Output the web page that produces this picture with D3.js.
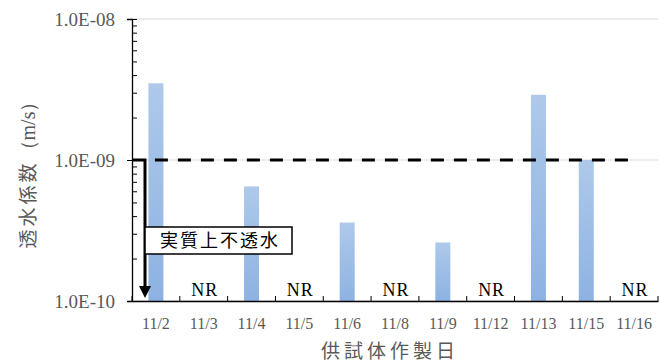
<!DOCTYPE html>
<html>
<head>
<meta charset="utf-8">
<script src="https://cdn.jsdelivr.net/npm/d3@7"></script>
<style>
body { margin: 0; background: #fff; }
svg { display: block; }
</style>
</head>
<body>
<div class="chart"></div>
<script>
//data
var dates = ["11/2", "11/3", "11/4", "11/5", "11/6", "11/8", "11/9", "11/12", "11/13", "11/15", "11/16"];
var kValues = [3.5e-9, null, 6.5e-10, null, 3.6e-10, null, 2.6e-10, null, 2.9e-9, 1.0e-9, null];
var yTicks = [1e-10, 1e-9, 1e-8];
var yTickLabels = ["1.0E-10", "1.0E-09", "1.0E-08"];
var threshold = 1e-9;
var nrLabel = "NR";
var noteText = "実質上不透水";
var yTitle = "透水係数";
var yUnit = "（m/s）";
var xTitle = "供試体作製日";

var width = 660;
var height = 363;
var margin = {top: 19, right: 2, bottom: 62, left: 132};
var grey = "#595959";
var serif = "'Liberation Serif', 'DejaVu Serif', serif";
var sans = "'Noto Sans CJK JP', 'Noto Sans', sans-serif";

var svg = d3.select(".chart").append("svg")
    .attr("width", width)
    .attr("height", height)
    .style("background-color", "white");

//bar gradient
var grad = svg.append("defs").append("linearGradient")
    .attr("id", "barGrad")
    .attr("x1", 0).attr("y1", 0).attr("x2", 0).attr("y2", 1);
grad.append("stop").attr("offset", "0%").attr("stop-color", "#aec9ea");
grad.append("stop").attr("offset", "100%").attr("stop-color", "#8db2e2");

var x = d3.scaleBand()
    .domain(dates)
    .range([margin.left, width - margin.right])
    .padding(0);

var y = d3.scaleLog()
    .domain([yTicks[0], yTicks[yTicks.length - 1]])
    .range([height - margin.bottom, margin.top]);

var barW = 15;

//grid lines
svg.append("g")
    .selectAll("line")
    .data(yTicks)
    .enter().append("line")
    .attr("x1", margin.left)
    .attr("x2", width - margin.right)
    .attr("y1", d => y(d))
    .attr("y2", d => y(d))
    .attr("stroke", "#d9d9d9")
    .attr("stroke-width", 1);

//bars
svg.append("g")
    .selectAll("rect")
    .data(dates.filter((d, i) => kValues[i] != null))
    .enter().append("rect")
    .attr("x", d => x(d) + x.bandwidth() / 2 - barW / 2)
    .attr("width", barW)
    .attr("y", d => y(kValues[dates.indexOf(d)]))
    .attr("height", d => y(yTicks[0]) - y(kValues[dates.indexOf(d)]))
    .attr("fill", "url(#barGrad)");

//NR labels
svg.append("g")
    .selectAll("text")
    .data(dates.filter((d, i) => kValues[i] == null))
    .enter().append("text")
    .attr("x", d => x(d) + x.bandwidth() / 2 + 1)
    .attr("y", y(yTicks[0]) - 5)
    .attr("text-anchor", "middle")
    .attr("font-family", serif)
    .attr("font-size", "18px")
    .attr("letter-spacing", "1px")
    .style("fill", "#000")
    .text(nrLabel);

//threshold dashed line
svg.append("line")
    .attr("x1", x(dates[0]) + x.bandwidth() / 2 - 1)
    .attr("x2", x(dates[dates.length - 1]) + x.bandwidth() / 2)
    .attr("y1", y(threshold))
    .attr("y2", y(threshold))
    .attr("stroke", "#000")
    .attr("stroke-width", 3)
    .attr("stroke-dasharray", "13,10");

//L-shaped arrow down to the bottom
var ax = margin.left + 13;
svg.append("path")
    .attr("d", "M" + margin.left + "," + y(threshold) + "H" + ax + "V" + (y(yTicks[0]) - 14))
    .attr("fill", "none")
    .attr("stroke", "#000")
    .attr("stroke-width", 3);
svg.append("path")
    .attr("d", "M" + (ax - 6) + "," + (y(yTicks[0]) - 15) + "L" + (ax + 6) + "," + (y(yTicks[0]) - 15) + "L" + ax + "," + (y(yTicks[0]) - 3) + "Z")
    .attr("fill", "#000");

//note box
var note = svg.append("g").attr("transform", "translate(" + ax + ",227)");
note.append("rect")
    .attr("width", 147)
    .attr("height", 27)
    .attr("fill", "#fff")
    .attr("stroke", "#000")
    .attr("stroke-width", 1.5);
note.append("text")
    .attr("x", 75)
    .attr("y", 20)
    .attr("text-anchor", "middle")
    .attr("font-family", sans)
    .attr("font-size", "18px")
    .attr("letter-spacing", "2px")
    .style("fill", "#000")
    .text(noteText);

//y axis: major ticks crossing, labels
var yAxis = svg.append("g")
    .attr("transform", "translate(" + margin.left + ",0)")
    .call(d3.axisLeft(y).tickValues(yTicks).tickSize(5).tickFormat((d, i) => yTickLabels[i]));
yAxis.select(".domain").attr("stroke", "#000").attr("stroke-width", 1.3);
yAxis.selectAll(".tick line").attr("x2", 5).attr("x1", -5).attr("stroke", "#000");
yAxis.selectAll(".tick text")
    .attr("x", -17)
    .attr("font-family", serif)
    .attr("font-size", "19px")
    .style("fill", grey);

//minor ticks inside
var minorTicks = y.ticks().filter(d => yTicks.indexOf(d) < 0);
var yMinor = svg.append("g")
    .attr("transform", "translate(" + margin.left + ",0)")
    .call(d3.axisRight(y).tickValues(minorTicks).tickSize(5).tickFormat(""));
yMinor.select(".domain").remove();
yMinor.selectAll(".tick line").attr("stroke", "#000");

//x axis
var xAxis = svg.append("g")
    .attr("transform", "translate(0," + y(yTicks[0]) + ")")
    .call(d3.axisBottom(x).tickSize(0).tickSizeOuter(0).tickPadding(17));
xAxis.select(".domain").attr("stroke", "#000").attr("stroke-width", 1.3);
xAxis.selectAll(".tick text")
    .attr("font-family", serif)
    .attr("font-size", "16px")
    .style("fill", grey);

//category boundary ticks pointing up
xAxis.append("g")
    .selectAll("line")
    .data(dates.concat([null]))
    .enter().append("line")
    .attr("x1", (d, i) => i < dates.length ? x(d) : x.range()[1])
    .attr("x2", (d, i) => i < dates.length ? x(d) : x.range()[1])
    .attr("y1", 0)
    .attr("y2", -5)
    .attr("stroke", "#000");

//axis titles
var yt = svg.append("text")
    .attr("transform", "translate(35,170) rotate(-90)")
    .attr("text-anchor", "middle")
    .attr("font-family", sans)
    .attr("font-size", "19px")
    .style("fill", grey);
yt.append("tspan")
    .attr("letter-spacing", "3px")
    .text(yTitle);
yt.append("tspan")
    .attr("font-family", serif)
    .attr("font-size", "20px")
    .text(yUnit);

svg.append("text")
    .attr("x", 390)
    .attr("y", 358)
    .attr("text-anchor", "middle")
    .attr("font-family", sans)
    .attr("font-size", "19px")
    .attr("letter-spacing", "4px")
    .style("fill", grey)
    .text(xTitle);
</script>
</body>
</html>
